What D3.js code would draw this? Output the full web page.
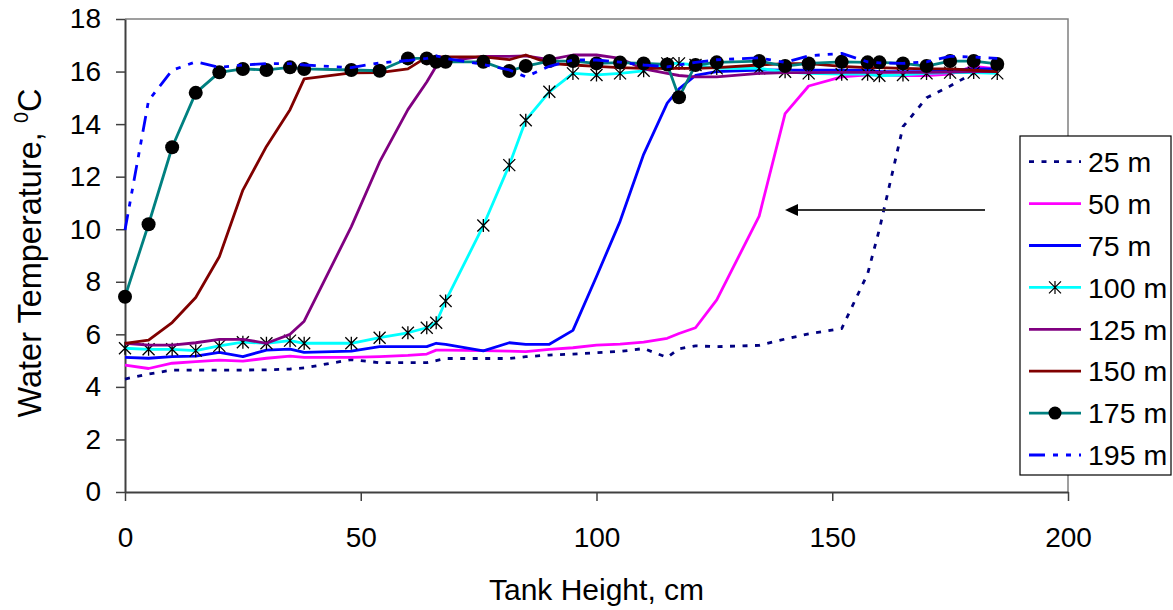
<!DOCTYPE html>
<html>
<head>
<meta charset="utf-8">
<script src="https://cdn.jsdelivr.net/npm/d3@7"></script>
<style>
  body { margin: 0; background: #fff; }
  text { font-family: "Liberation Sans", Arial, sans-serif; fill: #000; }
</style>
</head>
<body>
<div id="chart"></div>
<script>
// Water temperature profiles along tank height, one curve per distance
const width = 1173, height = 610, margin = {top: 19, right: 105, bottom: 118, left: 125};
const tickFontSize = 28, titleFontSize = 30, yTitleFontSize = 32.5, legendFontSize = 28.5;

const heights = [0, 5, 10, 15, 20, 25, 30, 35, 38, 48, 54, 60, 64, 66, 68, 76, 81.5, 85, 90, 95,
  100, 105, 110, 115, 117.5, 121, 125.5, 134.5, 140, 145, 152, 157.5, 160, 165, 170, 175, 180, 185];

const t25 = [4.3, 4.49, 4.64, 4.64, 4.64, 4.64, 4.65, 4.68, 4.72, 5.04, 4.92, 4.92, 4.92, 5.0, 5.08, 5.08, 5.08, 5.15, 5.21, 5.25,
  5.3, 5.35, 5.46, 5.12, 5.45, 5.56, 5.53, 5.58, 5.82, 6.02, 6.22, 8.3, 10.0, 13.9, 15.0, 15.45, 15.95, 16.2];
const t50 = [4.83, 4.7, 4.9, 4.96, 5.02, 4.98, 5.09, 5.17, 5.12, 5.12, 5.15, 5.2, 5.25, 5.4, 5.4, 5.38, 5.36, 5.34, 5.43, 5.49,
  5.59, 5.63, 5.7, 5.85, 6.03, 6.25, 7.31, 10.5, 14.4, 15.45, 15.8, 15.87, 15.87, 15.85, 15.85, 15.9, 16.2, 16.1];
const t75 = [5.12, 5.09, 5.15, 5.17, 5.31, 5.15, 5.4, 5.44, 5.31, 5.36, 5.53, 5.53, 5.53, 5.66, 5.62, 5.37, 5.68, 5.62, 5.62, 6.15,
  8.2, 10.3, 12.85, 14.8, 15.34, 15.85, 16.0, 16.06, 16.05, 16.05, 16.05, 16.05, 16.0, 16.0, 16.0, 16.05, 16.1, 16.1];
const t100 = [5.47, 5.43, 5.43, 5.38, 5.56, 5.7, 5.66, 5.76, 5.66, 5.66, 5.87, 6.06, 6.25, 6.44, 7.27, 10.14, 12.44, 14.15, 15.23, 15.93,
  15.87, 15.93, 16.03, 16.31, 16.31, 16.25, 16.12, 16.12, 15.99, 15.93, 15.9, 15.9, 15.84, 15.87, 15.93, 15.96, 15.96, 15.93];
const t125 = [5.66, 5.59, 5.59, 5.68, 5.81, 5.81, 5.66, 6.0, 6.5, 10.1, 12.56, 14.55, 15.6, 16.2, 16.4, 16.58, 16.58, 16.6, 16.45, 16.63,
  16.63, 16.5, 16.1, 15.93, 15.85, 15.8, 15.8, 15.93, 15.96, 15.96, 15.97, 15.97, 15.97, 15.97, 15.97, 15.98, 16.0, 16.0];
const t150 = [5.66, 5.78, 6.45, 7.4, 8.95, 11.49, 13.15, 14.55, 15.72, 15.95, 15.96, 16.1, 16.55, 16.56, 16.56, 16.56, 16.45, 16.63, 16.31, 16.25,
  16.2, 16.15, 16.12, 16.12, 16.12, 16.12, 16.15, 16.25, 16.3, 16.3, 16.2, 16.15, 16.15, 16.12, 16.1, 16.1, 16.05, 16.0];
const t175 = [7.43, 10.19, 13.12, 15.19, 15.97, 16.1, 16.06, 16.16, 16.1, 16.06, 16.03, 16.5, 16.5, 16.37, 16.37, 16.37, 16.02, 16.21, 16.4, 16.4,
  16.31, 16.34, 16.31, 16.27, 15.02, 16.25, 16.35, 16.4, 16.21, 16.31, 16.37, 16.35, 16.35, 16.31, 16.21, 16.4, 16.4, 16.29];
const t195 = [9.97, 14.9, 16.05, 16.37, 16.16, 16.25, 16.3, 16.3, 16.25, 16.15, 16.33, 16.42, 16.5, 16.6, 16.5, 16.27, 16.06, 15.8, 16.2, 16.44,
  16.44, 16.36, 16.25, 16.18, 16.25, 16.35, 16.45, 16.52, 16.35, 16.6, 16.69, 16.37, 16.33, 16.31, 16.37, 16.58, 16.55, 16.5];

const seriesNames = ["25 m", "50 m", "75 m", "100 m", "125 m", "150 m", "175 m", "195 m"];
const xTicks = [0, 50, 100, 150, 200];
const yTicks = [0, 2, 4, 6, 8, 10, 12, 14, 16, 18];

const series = [
  {name: seriesNames[0], values: t25, color: "#000080", dash: "5,7.5"},
  {name: seriesNames[1], values: t50, color: "#FF00FF"},
  {name: seriesNames[2], values: t75, color: "#0000FF"},
  {name: seriesNames[3], values: t100, color: "#00FFFF", marker: "star"},
  {name: seriesNames[4], values: t125, color: "#800080"},
  {name: seriesNames[5], values: t150, color: "#800000"},
  {name: seriesNames[6], values: t175, color: "#008080", marker: "dot"},
  {name: seriesNames[7], values: t195, color: "#0000FF", dash: "16,8,5,8,5,8"}
];

const svg = d3.select("#chart").append("svg")
  .attr("width", width).attr("height", height);

const x = d3.scaleLinear().domain([0, 200]).range([margin.left, width - margin.right]);
const y = d3.scaleLinear().domain([0, 18]).range([height - margin.bottom, margin.top]);

// plot frame: grey top and right edges
svg.append("path")
  .attr("d", `M${x(0)},${y(18)}H${x(200)}V${y(0)}`)
  .attr("fill", "none").attr("stroke", "#808080").attr("stroke-width", 1.5);

const xAxis = svg.append("g").attr("transform", `translate(0,${y(0)})`)
  .call(d3.axisBottom(x).tickValues(xTicks).tickSize(9).tickSizeOuter(0).tickPadding(26));
const yAxis = svg.append("g").attr("transform", `translate(${x(0)},0)`)
  .call(d3.axisLeft(y).tickValues(yTicks).tickSize(9).tickSizeOuter(0).tickPadding(15));
[xAxis, yAxis].forEach(g => {
  g.select(".domain").attr("stroke", "#404040").attr("stroke-width", 2);
  g.selectAll(".tick line").attr("stroke", "#404040").attr("stroke-width", 1.5);
  g.selectAll("text").attr("font-size", tickFontSize).attr("fill", "#000")
    .style("font-family", "'Liberation Sans', Arial, sans-serif");
});

svg.append("text").attr("x", (x(0) + x(200)) / 2).attr("y", 600)
  .attr("text-anchor", "middle").attr("font-size", titleFontSize).text("Tank Height, cm");

const yTitle = svg.append("text")
  .attr("transform", `translate(41,253) rotate(-90)`)
  .attr("text-anchor", "middle").attr("font-size", yTitleFontSize);
yTitle.append("tspan").text("Water Temperature, ");
yTitle.append("tspan").attr("font-size", 20).attr("dy", -13).text("0");
yTitle.append("tspan").attr("dy", 13).text("C");

const line = d3.line().x(d => x(d[0])).y(d => y(d[1]));
const starPath = "M0,-6.5V6.5M-6,-6L6,6M-6,6L6,-6";

series.forEach(s => {
  const pts = heights.map((h, i) => [h, s.values[i]]);
  svg.append("path").datum(pts)
    .attr("fill", "none").attr("stroke", s.color).attr("stroke-width", 2.8)
    .attr("stroke-dasharray", s.dash || null)
    .attr("stroke-linejoin", "round")
    .attr("d", line);
  if (s.marker === "dot") {
    svg.append("g").selectAll("circle").data(pts).join("circle")
      .attr("cx", d => x(d[0])).attr("cy", d => y(d[1])).attr("r", 7).attr("fill", "#000");
  } else if (s.marker === "star") {
    svg.append("g").selectAll("path").data(pts).join("path")
      .attr("transform", d => `translate(${x(d[0])},${y(d[1])})`)
      .attr("d", starPath).attr("stroke", "#000").attr("stroke-width", 1.3).attr("fill", "none");
  }
});

// arrow pointing left
svg.append("line").attr("x1", 985).attr("x2", 797).attr("y1", 210).attr("y2", 210)
  .attr("stroke", "#333").attr("stroke-width", 2);
svg.append("path").attr("d", "M785,210L798,204L798,216Z").attr("fill", "#000");

// legend
const legend = svg.append("g").attr("transform", "translate(1020,136)");
legend.append("rect").attr("width", 151).attr("height", 339)
  .attr("fill", "#fff").attr("stroke", "#000").attr("stroke-width", 1.2);
series.forEach((s, i) => {
  const cy = 25.7 + i * 41.9;
  const row = legend.append("g").attr("transform", `translate(0,${cy})`);
  row.append("line").attr("x1", 9).attr("x2", 61).attr("y1", 0).attr("y2", 0)
    .attr("stroke", s.color).attr("stroke-width", 2.8).attr("stroke-dasharray", s.dash || null);
  if (s.marker === "dot") row.append("circle").attr("cx", 35).attr("r", 6.5).attr("fill", "#000");
  if (s.marker === "star") row.append("path").attr("transform", "translate(35,0)")
    .attr("d", starPath).attr("stroke", "#000").attr("stroke-width", 1.2).attr("fill", "none");
  row.append("text").attr("x", 68).attr("y", 0).attr("dy", "0.36em")
    .attr("font-size", legendFontSize).text(s.name);
});
</script>
</body>
</html>
